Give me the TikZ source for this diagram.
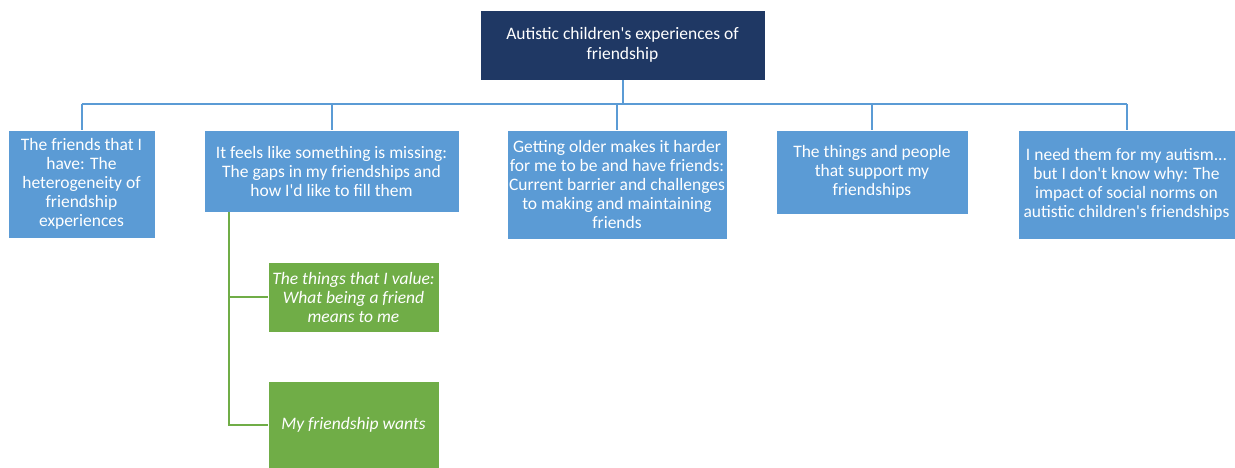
\documentclass[tikz,border=0pt]{standalone}
\usepackage{fontspec}
\setmainfont{Carlito}[Ligatures=TeXOff]
\usepackage{xcolor}
\definecolor{navy}{HTML}{1F3864}
\definecolor{themeblue}{HTML}{5B9BD5}
\definecolor{themegreen}{HTML}{70AD47}
\tikzset{
    top-box/.style = {draw=white, fill=navy, text=white, rectangle, inner sep=0pt, align=center, font=\fontsize{17.5}{20}\selectfont},
    theme-box/.style = {draw=white, fill=themeblue, text=white, rectangle, inner sep=0pt, align=center, font=\fontsize{17.5}{19}\selectfont},
    sub-box/.style = {draw=white, fill=themegreen, text=white, rectangle, inner sep=0pt, align=center, font=\fontsize{17.5}{19}\selectfont\itshape},
    blue-line/.style = {draw=themeblue, line width=2pt},
    green-line/.style = {draw=themegreen, line width=2pt},
}
\begin{document}
\begin{tikzpicture}[x=1pt, y=-1pt]
\useasboundingbox (0,0) rectangle (1235,468);

\node [top-box, minimum width=285pt, minimum height=70pt] (top) at (622.5,45) {Autistic children's experiences of\\ friendship};

\node [theme-box, minimum width=147pt, minimum height=108pt] (t1) at (81.5,184) {The friends that I\\ have: The\\ heterogeneity of\\ friendship\\ experiences};
\node [theme-box, minimum width=255pt, minimum height=82pt] (t2) at (331.5,171) {It feels like something is missing:\\ The gaps in my friendships and\\ how I'd like to fill them};
\node [theme-box, minimum width=220pt, minimum height=109pt] (t3) at (617,184.5) {Getting older makes it harder\\ for me to be and have friends:\\ Current barrier and challenges\\ to making and maintaining\\ friends};
\node [theme-box, minimum width=192pt, minimum height=84pt] (t4) at (872,172) {The things and people\\ that support my\\ friendships};
\node [theme-box, minimum width=217pt, minimum height=109pt] (t5) at (1126.5,184.5) {I need them for my autism...\\ but I don't know why: The\\ impact of social norms on\\ autistic children's friendships};

\node [sub-box, minimum width=171pt, minimum height=70pt] (s1) at (353.5,297) {The things that I value:\\ What being a friend\\ means to me};
\node [sub-box, minimum width=171pt, minimum height=87pt] (s2) at (353.5,424.5) {My friendship wants};

% tree connectors
\coordinate (bus) at (0,104);
\draw [blue-line] (top.south) -- (top.south |- bus);
\draw [blue-line] (t1.north |- bus) -- (t5.north |- bus);
\foreach \n in {t1,t2,t3,t4,t5}
    \draw [blue-line] (\n.north |- bus) -- (\n.north);

\coordinate (stem) at (229,212);
\draw [green-line] (stem) |- (s1.west);
\draw [green-line] (stem) |- (s2.west);
\end{tikzpicture}
\end{document}
